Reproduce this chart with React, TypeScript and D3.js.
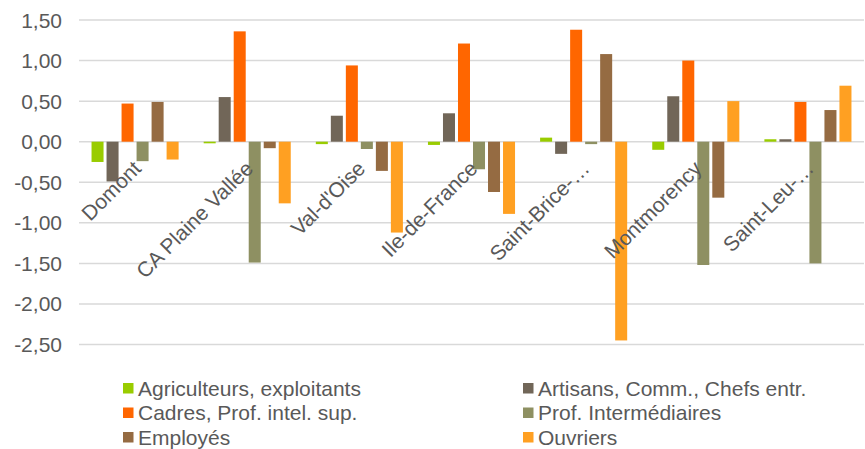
import React from "react";
import * as d3 from "d3";

const categories = ["Domont", "CA Plaine Vallée", "Val-d'Oise", "Ile-de-France", "Saint-Brice-…", "Montmorency", "Saint-Leu-…"];
const seriesNames = ["Agriculteurs, exploitants", "Artisans, Comm., Chefs entr.", "Cadres, Prof. intel. sup.", "Prof. Intermédiaires", "Employés", "Ouvriers"];
const seriesColors = ["#99CC00", "#716658", "#FF6600", "#8E9062", "#956B42", "#FFA022"];
const agriculteurs = [-0.25, -0.02, -0.03, -0.04, 0.05, -0.10, 0.03];
const artisans = [-0.49, 0.55, 0.32, 0.35, -0.15, 0.56, 0.03];
const cadres = [0.47, 1.36, 0.94, 1.21, 1.38, 1.00, 0.49];
const profInter = [-0.24, -1.49, -0.09, -0.34, -0.03, -1.52, -1.50];
const employes = [0.49, -0.08, -0.36, -0.62, 1.08, -0.69, 0.39];
const ouvriers = [-0.22, -0.76, -1.12, -0.89, -2.45, 0.50, 0.69];
const yTicks = [1.5, 1.0, 0.5, 0, -0.5, -1.0, -1.5, -2.0, -2.5];

const seriesValues = [agriculteurs, artisans, cadres, profInter, employes, ouvriers];

const W = 865;
const H = 449;
const FONT = "'Liberation Sans', Arial, sans-serif";
const TXT = "#595959";
const FS = 21;

export default function App() {
  const x0 = d3.scaleBand<string>().domain(categories).range([79, 864]).paddingInner(0).paddingOuter(0);
  const x1 = d3
    .scaleBand<string>()
    .domain(seriesNames)
    .range([0, x0.bandwidth()])
    .paddingInner(0)
    .paddingOuter(0.735);
  const y = d3.scaleLinear().domain([-2.5, 1.5]).range([344.5, 20]);
  const fmt = (v: number) => v.toFixed(2).replace(".", ",");
  const step = x1.step();
  const barW = step - 3;

  return (
    <svg width={W} height={H} style={{ position: "absolute", left: 0, top: 0, background: "#fff" }} fontFamily={FONT}>
      <g>
        {yTicks.map((t) => (
          <g key={t}>
            <line x1={79} x2={864} y1={y(t)} y2={y(t)} stroke="#d9d9d9" strokeWidth={1.5} />
            <text x={62} y={y(t)} dy="0.36em" textAnchor="end" fontSize={FS} fill={TXT}>
              {fmt(t)}
            </text>
          </g>
        ))}
      </g>
      <g>
        {categories.map((c, ci) => (
          <g key={c} transform={`translate(${x0(c)},0)`}>
            {seriesNames.map((s, si) => {
              const v = seriesValues[si][ci];
              const y0 = y(0);
              const yv = y(v);
              return (
                <rect
                  key={s}
                  x={(x1(s) as number) + (step - barW) / 2}
                  y={Math.min(y0, yv)}
                  width={barW}
                  height={Math.max(0.8, Math.abs(yv - y0))}
                  fill={seriesColors[si]}
                />
              );
            })}
          </g>
        ))}
      </g>
      <g>
        {categories.map((c) => {
          const cx = (x0(c) as number) + x0.bandwidth() / 2;
          return (
            <text
              key={c}
              transform={`translate(${cx + 2},${y(0) + 23}) rotate(-45)`}
              textAnchor="end"
              dy="0.35em"
              fontSize={FS}
              fill={TXT}
            >
              {c}
            </text>
          );
        })}
      </g>
      <g>
        {seriesNames.map((s, i) => {
          const col = i % 2;
          const row = Math.floor(i / 2);
          const lx = col === 0 ? 123 : 523;
          const ly = 388 + row * 24.5;
          return (
            <g key={s}>
              <rect x={lx} y={ly - 5} width={10.5} height={10.5} fill={seriesColors[i]} />
              <text x={lx + 15} y={ly} dy="0.36em" fontSize={FS} fill={TXT}>
                {s}
              </text>
            </g>
          );
        })}
      </g>
    </svg>
  );
}
